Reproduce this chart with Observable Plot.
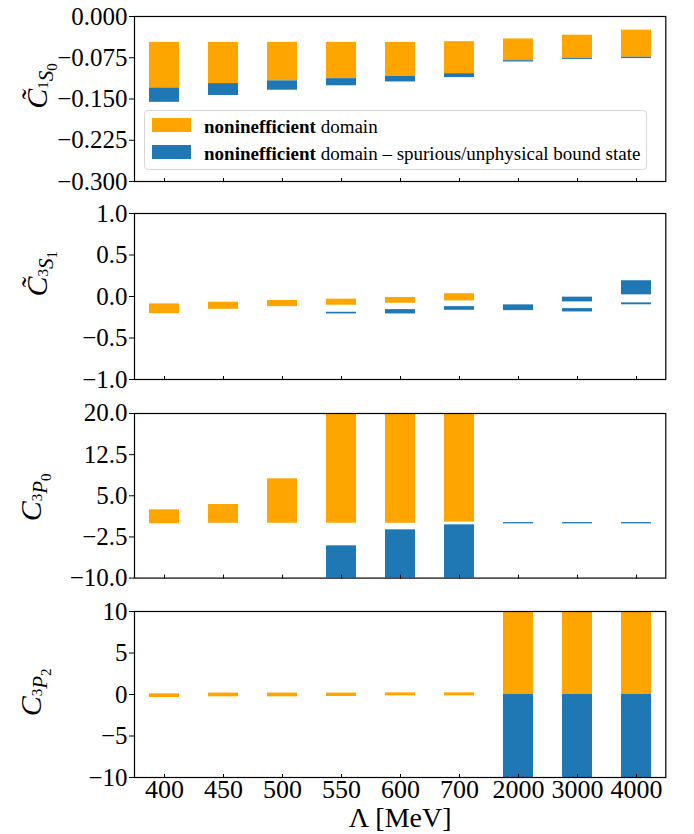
<!DOCTYPE html>
<html><head><meta charset="utf-8">
<script src="https://cdn.jsdelivr.net/npm/d3@7"></script>
<script src="https://cdn.jsdelivr.net/npm/@observablehq/plot@0.6"></script>
<style>
body{margin:0;background:#fff;}
#wrap{position:relative;width:694px;height:834px;font-family:"Liberation Serif",serif;overflow:hidden;}
#wrap svg{position:absolute;left:0;}
#legend{position:absolute;left:144px;top:110px;width:503px;height:60px;border:1px solid #d6d6d6;border-radius:4px;background:rgba(255,255,255,0.85);box-sizing:border-box;}
#legend .sw{position:absolute;left:7px;width:39px;height:14px;}
#legend .tx{position:absolute;left:59px;font-size:19px;white-space:nowrap;color:#000;line-height:1;}
#legend b{font-weight:bold;}
</style></head><body><div id="wrap"></div>
<script>
const lambdas = ["400","450","500","550","600","700","2000","3000","4000"];
const seriesNames = ["domain","spurious"];
const seriesColors = ["#ffa500","#1f77b4"];

// Panel 1: C~_{1S0}
const p1Lam  = ["400","450","500","550","600","700","2000","3000","4000","400","450","500","550","600","700","2000","3000","4000"];
const p1Type = ["domain","domain","domain","domain","domain","domain","domain","domain","domain","spurious","spurious","spurious","spurious","spurious","spurious","spurious","spurious","spurious"];
const p1Lo   = [-0.130,-0.122,-0.117,-0.113,-0.109,-0.104,-0.0803,-0.076,-0.074,-0.156,-0.1436,-0.134,-0.126,-0.119,-0.111,-0.0827,-0.078,-0.0765];
const p1Hi   = [-0.047,-0.047,-0.047,-0.047,-0.047,-0.0457,-0.0408,-0.034,-0.0248,-0.130,-0.122,-0.117,-0.113,-0.109,-0.104,-0.0803,-0.076,-0.074];
const p1Ticks = [0,-0.075,-0.15,-0.225,-0.3];

// Panel 2: C~_{3S1}
const p2Lam  = ["400","450","500","550","600","700","550","600","700","2000","3000","3000","4000","4000"];
const p2Type = ["domain","domain","domain","domain","domain","domain","spurious","spurious","spurious","spurious","spurious","spurious","spurious","spurious"];
const p2Lo   = [-0.206,-0.154,-0.122,-0.105,-0.081,-0.053,-0.21,-0.21,-0.166,-0.17,-0.065,-0.186,0.02,-0.10];
const p2Hi   = [-0.089,-0.069,-0.048,-0.032,-0.012,0.033,-0.19,-0.158,-0.122,-0.101,-0.008,-0.146,0.19,-0.077];
const p2Ticks = [1,0.5,0,-0.5,-1];

// Panel 3: C_{3P0}
const p3Lam  = ["400","450","500","550","600","700","550","600","700","2000","3000","4000"];
const p3Type = ["domain","domain","domain","domain","domain","domain","spurious","spurious","spurious","spurious","spurious","spurious"];
const p3Lo   = [-0.1,0,0,0,0,0.2,-20,-20,-20,-0.12,-0.12,-0.12];
const p3Hi   = [2.44,3.41,8.09,30,30,30,-4.12,-1.2,-0.29,0.12,0.12,0.12];
const p3Ticks = [20,12.5,5,-2.5,-10];

// Panel 4: C_{3P2}
const p4Lam  = ["400","450","500","550","600","700","2000","3000","4000","2000","3000","4000"];
const p4Type = ["domain","domain","domain","domain","domain","domain","domain","domain","domain","spurious","spurious","spurious"];
const p4Lo   = [-0.36,-0.28,-0.28,-0.24,-0.16,-0.16,0,0,0,-20,-20,-20];
const p4Hi   = [0.08,0.17,0.17,0.17,0.2,0.2,20,20,20,0,0,0];
const p4Ticks = [10,5,0,-5,-10];

const xLabel = "Λ [MeV]";

function rows(lam, type, lo, hi){ return lam.map((l,i)=>({lam:l, type:type[i], lo:lo[i], hi:hi[i]})); }
const minus = s => s.replace("-", "\u2212");

const wrap = document.getElementById("wrap");

function panel({data, ticks, fmt, domain, top, inner, bottom, last}){
  const mb = bottom;
  const marks = [
    Plot.barY(data.filter(d=>d.type==="domain"), {x:"lam", y1:"lo", y2:"hi", fill:"type", clip:true}),
    Plot.barY(data.filter(d=>d.type==="spurious"), {x:"lam", y1:"lo", y2:"hi", fill:"type", clip:true}),
    Plot.axisY({ticks, tickFormat: d=>minus(d3.format(fmt)(d)), tickSize:5, tickPadding:2, fontSize:25, label:null}),
    Plot.axisX({tickSize:4, tickPadding:1, dy:-3, fontSize:26, label:null, tickFormat: last ? (d=>d) : (()=>"")}),
    Plot.frame({stroke:"black", strokeWidth:1.2})
  ];
  if (last) marks.push(Plot.text([xLabel], {frameAnchor:"bottom", dy:49, fontSize:28, text:d=>d, fill:"black"}));
  const svg = Plot.plot({
    width:694, height:16+inner+mb,
    marginLeft:134, marginRight:28.7, marginTop:16, marginBottom:mb,
    style:{fontFamily:"Liberation Serif", color:"black", background:"transparent", overflow:"visible"},
    x:{type:"band", domain:lambdas, paddingInner:0.5, paddingOuter:0.25},
    y:{domain, nice:false},
    color:{type:"ordinal", domain:seriesNames, range:seriesColors},
    marks
  });
  svg.style.top = top + "px";
  wrap.appendChild(svg);
  return svg;
}

function yLabel(svg, top, bx, cy, tilde, sup, main, sub){
  const t = d3.select(svg).append("text")
    .attr("transform", `translate(${bx},${cy - top}) rotate(-90)`)
    .attr("text-anchor","middle").attr("font-size",30)
    .attr("font-family","Liberation Serif").attr("fill","black");
  t.append("tspan").attr("font-style","italic").text(tilde ? "C\u0303" : "C");
  t.append("tspan").attr("font-size",15).attr("dy",1).text(sup);
  t.append("tspan").attr("font-size",21).attr("font-style","italic").attr("dy",5).text(main);
  t.append("tspan").attr("font-size",15).attr("dy",4).text(sub);
}

const s1 = panel({data:rows(p1Lam,p1Type,p1Lo,p1Hi), ticks:p1Ticks, fmt:".3f", domain:[-0.3,0], top:0, inner:165, bottom:16});
yLabel(s1, 0, 47, 86, true, "1", "S", "0");
const s2 = panel({data:rows(p2Lam,p2Type,p2Lo,p2Hi), ticks:p2Ticks, fmt:".1f", domain:[-1,1], top:197.3, inner:166, bottom:16});
yLabel(s2, 197.3, 47, 274, true, "3", "S", "1");
const s3 = panel({data:rows(p3Lam,p3Type,p3Lo,p3Hi), ticks:p3Ticks, fmt:".1f", domain:[-10,20], top:396.7, inner:164.6, bottom:16});
yLabel(s3, 396.7, 41, 497, false, "3", "P", "0");
const s4 = panel({data:rows(p4Lam,p4Type,p4Lo,p4Hi), ticks:p4Ticks, fmt:"d", domain:[-10,10], top:594.7, inner:166, bottom:58, last:true});
yLabel(s4, 594.7, 41, 692, false, "3", "P", "2");

// legend
const lg = document.createElement("div");
lg.id = "legend";
lg.innerHTML =
  `<div class="sw" style="top:7px;background:${seriesColors[0]}"></div>` +
  `<div class="tx" style="top:6px"><b>noninefficient</b> domain</div>` +
  `<div class="sw" style="top:34px;background:${seriesColors[1]}"></div>` +
  `<div class="tx" style="top:33px"><b>noninefficient</b> domain – spurious/unphysical bound state</div>`;
wrap.appendChild(lg);
</script>
</body></html>
